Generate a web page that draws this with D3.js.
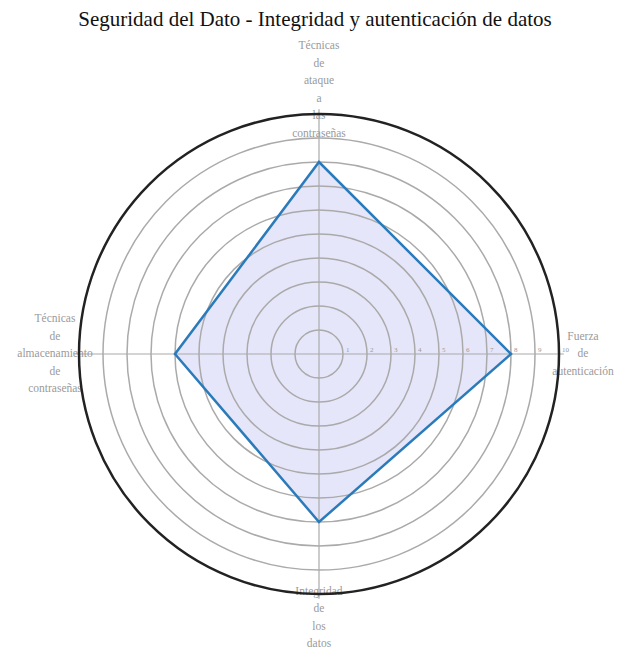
<!DOCTYPE html>
<html>
<head>
<meta charset="utf-8">
<script src="https://cdn.jsdelivr.net/npm/d3@7"></script>
<style>
  html, body { margin: 0; padding: 0; background: #fff; }
  svg { display: block; }
  text { font-family: "Liberation Serif", "DejaVu Serif", serif; }
</style>
</head>
<body>
<svg id="chart" width="621" height="651"></svg>
<script>
const title = "Seguridad del Dato - Integridad y autenticación de datos";
const categories = [
  "Fuerza de autenticación",
  "Técnicas de ataque a las contraseñas",
  "Técnicas de almacenamiento de contraseñas",
  "Integridad de los datos"
];
const values = [8, 8, 6, 7];
const tickValues = [1, 2, 3, 4, 5, 6, 7, 8, 9, 10];
const maxValue = 10;

const svg = d3.select("#chart");
const cx = 319, cy = 354, R = 240;
const r = d3.scaleLinear().domain([0, maxValue]).range([0, R]);
// angle counterclockwise from east
const angle = d3.scaleLinear().domain([0, categories.length]).range([0, 2 * Math.PI]);
const pt = (i, v) => [cx + r(v) * Math.cos(angle(i)), cy - r(v) * Math.sin(angle(i))];

svg.append("text")
  .attr("x", 315).attr("y", 26)
  .attr("text-anchor", "middle")
  .attr("font-size", 21)
  .attr("fill", "#111")
  .text(title);

const g = svg.append("g");

// filled area
const poly = values.map((v, i) => pt(i, v));
g.append("polygon")
  .attr("points", poly.map(p => p.join(",")).join(" "))
  .attr("fill", "#e6e6fa");

// grid rings
g.selectAll("circle.ring").data(tickValues.filter(t => t < maxValue)).join("circle")
  .attr("class", "ring")
  .attr("cx", cx).attr("cy", cy).attr("r", d => r(d))
  .attr("fill", "none").attr("stroke", "#aaa").attr("stroke-width", 1.5);

// axes
g.selectAll("line.axis").data(categories).join("line")
  .attr("class", "axis")
  .attr("x1", cx).attr("y1", cy)
  .attr("x2", (d, i) => pt(i, maxValue * 1.02)[0])
  .attr("y2", (d, i) => pt(i, maxValue * 1.02)[1])
  .attr("stroke", "#aaa").attr("stroke-width", 1.2);

// tick labels along first axis
g.selectAll("text.tick").data(tickValues).join("text")
  .attr("class", "tick")
  .attr("x", d => cx + r(d) + 3).attr("y", cy - 2)
  .attr("font-size", 7)
  .attr("fill", "#999")
  .text(d => d);

// category labels
const lineH = 17.5;
categories.forEach((c, i) => {
  const words = c.split(" ");
  const [lx, ly] = pt(i, maxValue + 1.0);
  const t = g.append("text")
    .attr("text-anchor", "middle")
    .attr("font-size", 11.5)
    .attr("fill", "#9a9a9a");
  const y0 = ly - (words.length - 1) * lineH / 2 + 3;
  words.forEach((w, k) => {
    t.append("tspan").attr("x", lx).attr("y", y0 + k * lineH).text(w);
  });
});

// outer circle
g.append("circle")
  .attr("cx", cx).attr("cy", cy).attr("r", r(maxValue))
  .attr("fill", "none").attr("stroke", "#222").attr("stroke-width", 2.5);

// polygon outline
g.append("polygon")
  .attr("points", poly.map(p => p.join(",")).join(" "))
  .attr("fill", "none").attr("stroke", "#2b7bba").attr("stroke-width", 2.5)
  .attr("stroke-linejoin", "miter");
</script>
</body>
</html>
